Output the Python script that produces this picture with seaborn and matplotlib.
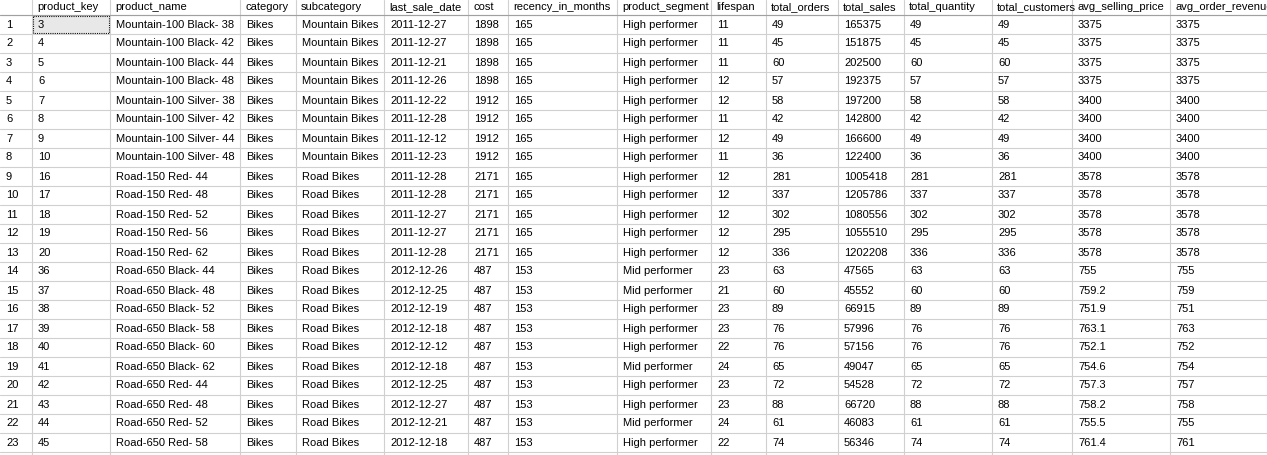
import matplotlib
matplotlib.use("Agg")
import matplotlib.pyplot as plt
import seaborn as sns

sns.set_theme(style="white")
plt.rcParams['font.family'] = ['Liberation Sans', 'DejaVu Sans']

columns = ["product_key","product_name","category","subcategory","last_sale_date","cost",
           "recency_in_months","product_segment","lifespan","total_orders","total_sales",
           "total_quantity","total_customers","avg_selling_price","avg_order_revenue"]
product_key = [3,4,5,6,7,8,9,10,16,17,18,19,20,36,37,38,39,40,41,42,43,44,45]
product_name = ["Mountain-100 Black- 38","Mountain-100 Black- 42","Mountain-100 Black- 44","Mountain-100 Black- 48",
                "Mountain-100 Silver- 38","Mountain-100 Silver- 42","Mountain-100 Silver- 44","Mountain-100 Silver- 48",
                "Road-150 Red- 44","Road-150 Red- 48","Road-150 Red- 52","Road-150 Red- 56","Road-150 Red- 62",
                "Road-650 Black- 44","Road-650 Black- 48","Road-650 Black- 52","Road-650 Black- 58","Road-650 Black- 60",
                "Road-650 Black- 62","Road-650 Red- 44","Road-650 Red- 48","Road-650 Red- 52","Road-650 Red- 58"]
category = ["Bikes"]*23
subcategory = ["Mountain Bikes"]*8 + ["Road Bikes"]*15
last_sale_date = ["2011-12-27","2011-12-27","2011-12-21","2011-12-26","2011-12-22","2011-12-28","2011-12-12","2011-12-23",
                  "2011-12-28","2011-12-28","2011-12-27","2011-12-27","2011-12-28",
                  "2012-12-26","2012-12-25","2012-12-19","2012-12-18","2012-12-12","2012-12-18","2012-12-25","2012-12-27","2012-12-21","2012-12-18"]
cost = [1898]*4 + [1912]*4 + [2171]*5 + [487]*10
recency = [165]*13 + [153]*10
segment = ["High performer"]*13 + ["Mid performer","Mid performer","High performer","High performer","High performer",
           "Mid performer","High performer","High performer","Mid performer","High performer"]
lifespan = [11,11,11,12,12,11,12,11,12,12,12,12,12,23,21,23,23,22,24,23,23,24,22]
total_orders = [49,45,60,57,58,42,49,36,281,337,302,295,336,63,60,89,76,76,65,72,88,61,74]
total_sales = [165375,151875,202500,192375,197200,142800,166600,122400,1005418,1205786,1080556,1055510,1202208,
               47565,45552,66915,57996,57156,49047,54528,66720,46083,56346]
total_quantity = total_orders
total_customers = total_orders
avg_selling_price = ["3375"]*4 + ["3400"]*4 + ["3578"]*5 + ["755","759.2","751.9","763.1","752.1","754.6","757.3","758.2","755.5","761.4"]
avg_order_revenue = [3375]*4 + [3400]*4 + [3578]*5 + [755,759,751,763,752,754,757,758,755,761]

data_cols = [product_key, product_name, category, subcategory, last_sale_date, cost, recency, segment,
             lifespan, total_orders, total_sales, total_quantity, total_customers, avg_selling_price, avg_order_revenue]
edges = [0,32,110,240,296,384,468,508,617,711,766,838,904,992,1072,1170,1290]
n = len(product_key)

fig = plt.figure(figsize=(12.67,4.55), dpi=100)
ax = fig.add_axes([0,0,1,1])
H = 455
ax.set_xlim(0,1267)
ax.set_ylim(H,0)
ax.axis('off')
header_h = 15
row_h = 19
def ry(i):
    return header_h + i*row_h

# selected cell
ax.add_patch(plt.Rectangle((edges[1]+1, ry(0)+1), edges[2]-edges[1]-2, row_h-2,
                           facecolor='#e8e8e8', edgecolor='black', linestyle=(0,(1,1)), linewidth=0.8))
# grid
for x in edges[1:-1]:
    ax.plot([x,x],[0,H], color='#d0d0d0', lw=0.8)
for i in range(n+1):
    ax.plot([0,1267],[ry(i),ry(i)], color='#d0d0d0', lw=0.8)
ax.plot([0,1267],[header_h,header_h], color='#a0a0a0', lw=0.8)

fs = 8
for j,c in enumerate(columns):
    ax.text(edges[j+1]+5, header_h/2, c, fontsize=fs, va='center', ha='left', color='black')
for i in range(n):
    yc = ry(i) + row_h/2
    ax.text(6, yc, str(i+1), fontsize=fs, va='center', ha='left', color='black')
    for j,col in enumerate(data_cols):
        ax.text(edges[j+1]+6, yc, str(col[i]), fontsize=fs, va='center', ha='left', color='black')

fig.savefig("out.png", dpi=100, facecolor='white')
